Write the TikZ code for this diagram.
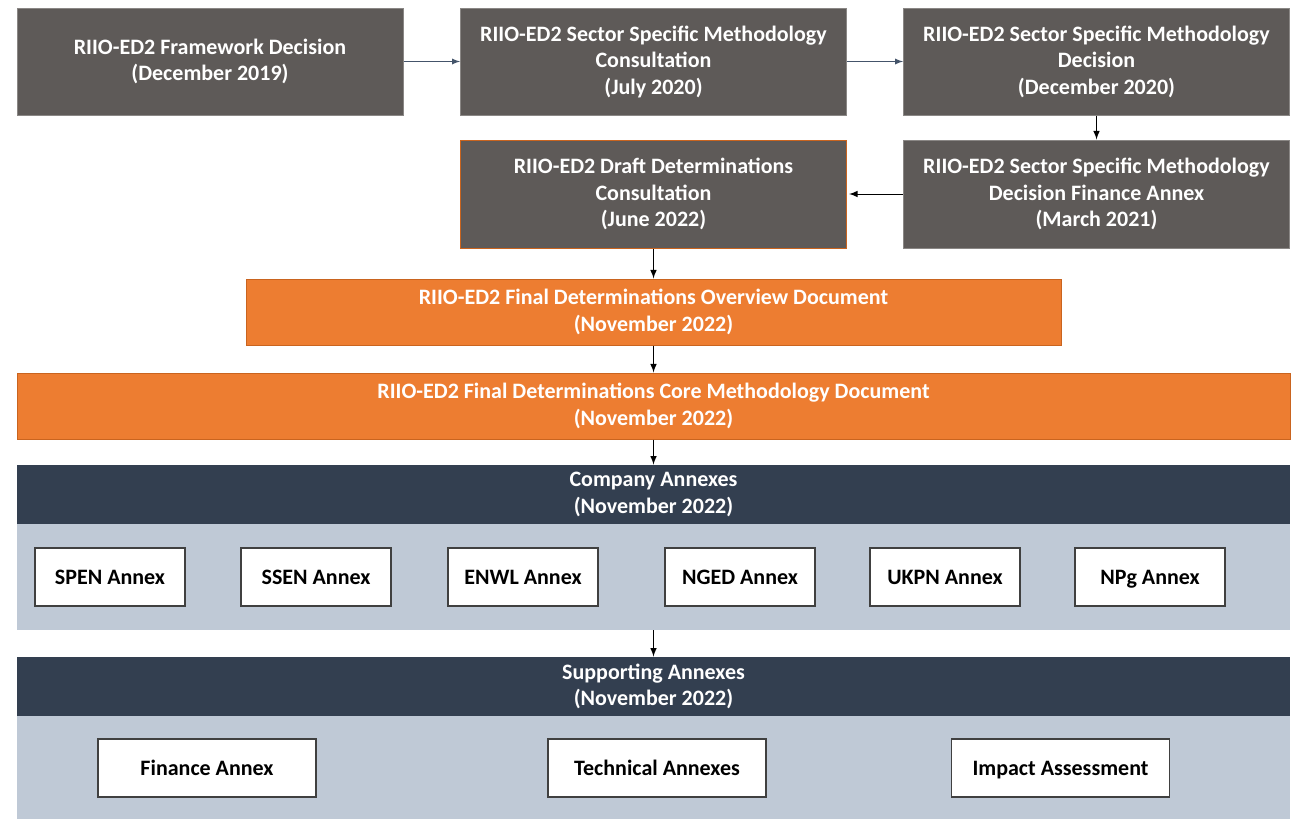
\documentclass[tikz,border=0pt]{standalone}
\usepackage{fontspec}
\setmainfont{Carlito}
\usetikzlibrary{calc}
\definecolor{boxgray}{HTML}{5E5A58}
\definecolor{boxline}{HTML}{8A8785}
\definecolor{orng}{HTML}{ED7D31}
\definecolor{orngline}{HTML}{C9641F}
\definecolor{navy}{HTML}{333F50}
\definecolor{bandc}{HTML}{BFC9D6}
\definecolor{arrc}{HTML}{44546A}

\begin{document}
\begin{tikzpicture}[x=0.5pt, y=-0.5pt, >=latex, font=\fontsize{11}{13.25}\selectfont\bfseries,
	stage/.style={rectangle, draw=boxline, line width=0.5pt, fill=boxgray, text=white, align=center,
	              minimum width=193pt, minimum height=53.5pt, inner sep=2pt},
	fd/.style={rectangle, draw=orngline, line width=0.5pt, fill=orng, text=white, align=center,
	           minimum height=33pt, inner sep=2pt},
	head/.style={rectangle, fill=navy, text=white, align=center, minimum width=636.5pt,
	             minimum height=29.5pt, inner sep=0pt},
	band/.style={rectangle, fill=bandc, minimum width=636.5pt, inner sep=0pt},
	annex/.style={rectangle, draw=black!75, line width=0.7pt, fill=white, text=black,
	              minimum width=75pt, minimum height=29pt, inner sep=2pt,
	              text height=7pt, text depth=0pt},
	supp/.style={annex, minimum width=109pt},]
	\useasboundingbox (0,0) rectangle (1299,819);

	 \node[stage] (framework) at (210,61.5) {RIIO-ED2 Framework Decision\\(December 2019)};
	 \node[stage, right of=framework, node distance=221.75pt] (ssmcons) {RIIO-ED2 Sector Specific Methodology\\Consultation\\(July 2020)};
	 \node[stage, right of=ssmcons, node distance=221.5pt] (ssmdec) {RIIO-ED2 Sector Specific Methodology\\Decision\\(December 2020)};
	 \node[stage, below of=ssmdec, node distance=66.25pt, minimum height=54pt] (finannex) {RIIO-ED2 Sector Specific Methodology\\Decision Finance Annex\\(March 2021)};
	 \node[stage, below of=ssmcons, node distance=66.25pt, minimum height=54pt, draw=orngline] (draft) {RIIO-ED2 Draft Determinations\\Consultation\\(June 2022)};

	 \node[fd, below of=draft, node distance=59pt, minimum width=407.5pt] (overview) {RIIO-ED2 Final Determinations Overview Document\\(November 2022)};
	 \node[fd, below of=overview, node distance=47pt, minimum width=636.5pt] (core) {RIIO-ED2 Final Determinations Core Methodology Document\\(November 2022)};

	 % company annexes
	 \node[head, below of=core, node distance=44.25pt] (comphead) {Company Annexes\\(November 2022)};
	 \node[band, below of=comphead, node distance=41.25pt, minimum height=53pt] (compband) {};
	 \node[annex] (spen) at (110,577) {SPEN Annex};
	 \node[annex] (ssen) at (316,577) {SSEN Annex};
	 \node[annex] (enwl) at (523,577) {ENWL Annex};
	 \node[annex] (nged) at (740,577) {NGED Annex};
	 \node[annex] (ukpn) at (945,577) {UKPN Annex};
	 \node[annex] (npg) at (1150,577) {NPg Annex};

	 % supporting annexes
	 \node[head, below of=compband, node distance=54.75pt] (supphead) {Supporting Annexes\\(November 2022)};
	 \node[band, below of=supphead, node distance=40.5pt, minimum height=51.5pt] (suppband) {};
	 \node[supp] (finance) at (207,768) {Finance Annex};
	 \node[supp] (technical) at (657,768) {Technical Annexes};
	 \node[supp] (impact) at (1060.5,768) {Impact Assessment};

	 \draw[->, color=arrc, line width=0.4pt] (framework) -- (ssmcons);
	 \draw[->, color=arrc, line width=0.4pt] (ssmcons) -- (ssmdec);
	 \draw[->, line width=0.5pt] (ssmdec) -- (finannex);
	 \draw[->, line width=0.5pt] (finannex) -- ($(draft.east)+(2,0)$);
	 \draw[->, line width=0.5pt] (draft) -- (overview);
	 \draw[->, line width=0.5pt] (overview) -- (core);
	 \draw[->, line width=0.5pt] (core) -- (comphead);
	 \draw[->, line width=0.5pt] (compband) -- (supphead);

\end{tikzpicture}
\end{document}
